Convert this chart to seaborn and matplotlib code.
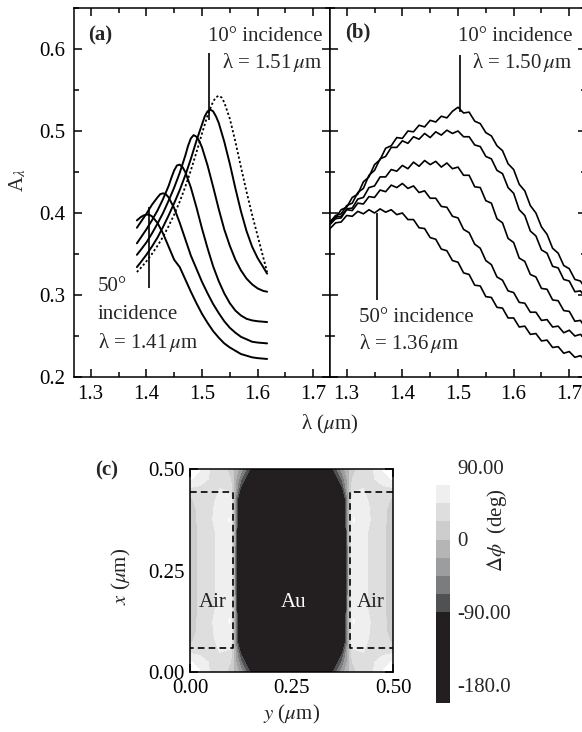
import numpy as np
import pandas as pd
import matplotlib
matplotlib.use("Agg")
import matplotlib.pyplot as plt
import seaborn as sns
from matplotlib.ticker import MultipleLocator, FormatStrFormatter

# ---------------- data: panel (a) simulated absorptance ----------------
xa_10 = [1.383, 1.39, 1.40, 1.41, 1.42, 1.43, 1.44, 1.45, 1.46, 1.47, 1.48, 1.49, 1.50, 1.505, 1.51,
         1.515, 1.52, 1.525, 1.53, 1.54, 1.55, 1.56, 1.57, 1.58, 1.59, 1.60, 1.61, 1.617]
ya_10 = [0.334, 0.340, 0.349, 0.359, 0.370, 0.383, 0.397, 0.412, 0.428, 0.446, 0.466, 0.488, 0.508, 0.518, 0.524,
         0.526, 0.524, 0.518, 0.510, 0.487, 0.460, 0.430, 0.402, 0.378, 0.359, 0.345, 0.334, 0.326]
xa_dot = [1.383, 1.39, 1.40, 1.41, 1.42, 1.43, 1.44, 1.45, 1.46, 1.47, 1.48, 1.49, 1.50, 1.51, 1.52,
          1.525, 1.53, 1.535, 1.54, 1.55, 1.56, 1.57, 1.58, 1.59, 1.60, 1.61, 1.617]
ya_dot = [0.328, 0.333, 0.341, 0.350, 0.360, 0.371, 0.384, 0.398, 0.414, 0.432, 0.452, 0.474, 0.497, 0.519, 0.536,
          0.541, 0.543, 0.541, 0.535, 0.515, 0.487, 0.456, 0.426, 0.398, 0.372, 0.346, 0.328]
xa_20 = [1.383, 1.39, 1.40, 1.41, 1.42, 1.43, 1.44, 1.45, 1.46, 1.47, 1.475, 1.48, 1.485, 1.49, 1.495,
         1.50, 1.51, 1.52, 1.53, 1.54, 1.55, 1.56, 1.57, 1.58, 1.59, 1.60, 1.61, 1.617]
ya_20 = [0.349, 0.355, 0.364, 0.375, 0.387, 0.400, 0.415, 0.431, 0.449, 0.470, 0.482, 0.491, 0.495, 0.493, 0.488,
         0.480, 0.458, 0.432, 0.405, 0.380, 0.360, 0.343, 0.330, 0.320, 0.313, 0.308, 0.305, 0.304]
xa_30 = [1.383, 1.39, 1.40, 1.41, 1.42, 1.43, 1.44, 1.445, 1.45, 1.455, 1.46, 1.465, 1.47, 1.48, 1.49,
         1.50, 1.51, 1.52, 1.53, 1.54, 1.55, 1.56, 1.57, 1.58, 1.59, 1.60, 1.617]
ya_30 = [0.363, 0.370, 0.380, 0.391, 0.403, 0.417, 0.433, 0.443, 0.452, 0.458, 0.459, 0.456, 0.450, 0.431, 0.407,
         0.381, 0.357, 0.335, 0.317, 0.302, 0.290, 0.281, 0.275, 0.271, 0.269, 0.268, 0.267]
xa_40 = [1.383, 1.39, 1.40, 1.41, 1.42, 1.425, 1.43, 1.435, 1.44, 1.45, 1.46, 1.47, 1.48, 1.49, 1.50,
         1.51, 1.52, 1.53, 1.54, 1.55, 1.56, 1.57, 1.58, 1.59, 1.60, 1.617]
ya_40 = [0.382, 0.389, 0.399, 0.410, 0.419, 0.423, 0.424, 0.423, 0.419, 0.406, 0.388, 0.368, 0.348, 0.332, 0.316,
         0.302, 0.289, 0.278, 0.268, 0.260, 0.254, 0.249, 0.246, 0.243, 0.242, 0.241]
xa_50 = [1.383, 1.39, 1.395, 1.40, 1.405, 1.41, 1.42, 1.43, 1.44, 1.45, 1.46, 1.47, 1.48, 1.49, 1.50,
         1.51, 1.52, 1.53, 1.54, 1.55, 1.56, 1.57, 1.58, 1.59, 1.60, 1.617]
ya_50 = [0.391, 0.395, 0.397, 0.398, 0.398, 0.396, 0.388, 0.375, 0.359, 0.343, 0.334, 0.319, 0.304, 0.290, 0.277,
         0.266, 0.256, 0.248, 0.241, 0.236, 0.232, 0.228, 0.226, 0.224, 0.223, 0.222]

# ---------------- data: panel (b) measured absorptance ----------------
xb = [1.27, 1.28, 1.29, 1.30, 1.31, 1.32, 1.33, 1.34, 1.35, 1.36, 1.37, 1.38, 1.39, 1.40, 1.41, 1.42,
      1.43, 1.44, 1.45, 1.46, 1.47, 1.48, 1.49, 1.50, 1.51, 1.52, 1.53, 1.54, 1.55, 1.56, 1.57, 1.58,
      1.59, 1.60, 1.61, 1.62, 1.63, 1.64, 1.65, 1.66, 1.67, 1.68, 1.69, 1.70, 1.71, 1.72, 1.73]
yb_10 = [0.390, 0.394, 0.404, 0.407, 0.419, 0.423, 0.438, 0.444, 0.459, 0.465, 0.479, 0.482, 0.492, 0.491, 0.500, 0.499,
         0.507, 0.505, 0.513, 0.511, 0.518, 0.516, 0.524, 0.529, 0.522, 0.523, 0.512, 0.509, 0.498, 0.494, 0.482, 0.476,
         0.460, 0.453, 0.435, 0.427, 0.409, 0.400, 0.383, 0.374, 0.357, 0.351, 0.336, 0.332, 0.319, 0.317, 0.307]
yb_20 = [0.389, 0.397, 0.399, 0.409, 0.412, 0.425, 0.430, 0.446, 0.452, 0.466, 0.469, 0.480, 0.480, 0.488, 0.485, 0.493,
         0.490, 0.497, 0.492, 0.499, 0.495, 0.501, 0.497, 0.500, 0.493, 0.493, 0.483, 0.481, 0.469, 0.466, 0.452, 0.448,
         0.431, 0.424, 0.404, 0.397, 0.378, 0.372, 0.355, 0.351, 0.335, 0.333, 0.319, 0.317, 0.304, 0.305, 0.296]
yb_30 = [0.388, 0.395, 0.396, 0.405, 0.406, 0.417, 0.419, 0.431, 0.433, 0.444, 0.444, 0.453, 0.451, 0.458, 0.454, 0.462,
         0.457, 0.464, 0.459, 0.463, 0.456, 0.461, 0.454, 0.456, 0.446, 0.446, 0.432, 0.431, 0.415, 0.412, 0.393, 0.388,
         0.369, 0.364, 0.345, 0.341, 0.325, 0.322, 0.308, 0.307, 0.294, 0.293, 0.281, 0.280, 0.268, 0.269, 0.259]
yb_40 = [0.386, 0.393, 0.394, 0.404, 0.403, 0.412, 0.411, 0.420, 0.419, 0.428, 0.426, 0.434, 0.431, 0.436, 0.430, 0.433,
         0.425, 0.427, 0.418, 0.418, 0.408, 0.407, 0.396, 0.394, 0.380, 0.376, 0.362, 0.357, 0.342, 0.337, 0.322, 0.318,
         0.305, 0.303, 0.291, 0.290, 0.279, 0.279, 0.269, 0.270, 0.261, 0.262, 0.254, 0.257, 0.250, 0.252, 0.246]
yb_50 = [0.381, 0.388, 0.389, 0.397, 0.396, 0.402, 0.399, 0.404, 0.400, 0.405, 0.401, 0.404, 0.398, 0.400, 0.392, 0.392,
         0.382, 0.381, 0.370, 0.368, 0.356, 0.354, 0.342, 0.340, 0.327, 0.325, 0.312, 0.311, 0.298, 0.297, 0.285, 0.284,
         0.272, 0.272, 0.261, 0.262, 0.252, 0.253, 0.244, 0.245, 0.236, 0.237, 0.229, 0.231, 0.224, 0.226, 0.220]

# peak markers: (lambda, y_low, y_high)
marks_a = [(1.513, 0.513, 0.595), (1.405, 0.309, 0.407)]
marks_b = [(1.503, 0.523, 0.593), (1.354, 0.294, 0.400)]

# ---------------- data: panel (c) phase map (deg) ----------------
yc_half = [0.0, 0.025, 0.05, 0.075, 0.1, 0.125, 0.15, 0.175, 0.2, 0.225, 0.25]
xc_rows = [0.0, 0.025, 0.05, 0.075, 0.1, 0.125, 0.15, 0.2, 0.25, 0.3, 0.35, 0.375, 0.4, 0.425, 0.45, 0.475, 0.5]
row_000 = [100, 95, 66, 60, 35, -10, -72, -150, -170, -170, -170]
row_025 = [96, 80, 64, 62, 45, -40, -115, -165, -170, -170, -170]
row_050 = [62, 60, 63, 68, 62, -75, -160, -170, -170, -170, -170]
row_075 = [40, 56, 63, 72, 80, -140, -170, -170, -170, -170, -170]
row_100 = [34, 52, 64, 76, 86, -150, -170, -170, -170, -170, -170]
row_125 = [32, 52, 64, 78, 96, -150, -170, -170, -170, -170, -170]
row_150 = [30, 50, 62, 74, 86, -160, -170, -170, -170, -170, -170]
row_200 = [28, 50, 62, 72, 82, -160, -170, -170, -170, -170, -170]
row_250 = [28, 50, 62, 72, 82, -160, -170, -170, -170, -170, -170]
phase_levels = [-180, -67.5, -45, -22.5, 0, 22.5, 45, 67.5, 90]
phase_colors = ["#231f20", "#505152", "#7b7c7d", "#9c9d9e", "#b5b5b6", "#cdcdcd", "#dedede", "#efefef"]
cbar_labels = ["90.00", "0", "-90.00", "-180.0"]

# ---------------- style ----------------
sns.set_theme(style="ticks")
plt.rcParams["font.family"] = ["Liberation Serif", "DejaVu Serif"]
plt.rcParams["mathtext.fontset"] = "stix"
plt.rcParams["axes.linewidth"] = 1.1
FS = 15

W, H = 582, 732
fig = plt.figure(figsize=(W / 100, H / 100), dpi=100)


def fr(l, t, r, b):
    return [l / W, 1 - b / H, (r - l) / W, (b - t) / H]


def style_ax(ax):
    ax.tick_params(which="both", direction="in", top=True, right=True, labelsize=FS,
                   width=1.1, colors="black")
    ax.tick_params(which="major", length=6)
    ax.tick_params(which="minor", length=3.5)
    ax.tick_params(axis="x", pad=6)
    ax.tick_params(axis="y", pad=6)
    for s in ax.spines.values():
        s.set_color("black")


axa = fig.add_axes(fr(74, 8, 330, 377))
axb = fig.add_axes(fr(330, 8, 586, 377))

lw = 1.4
for xs, ys in [(xa_10, ya_10), (xa_20, ya_20), (xa_30, ya_30), (xa_40, ya_40), (xa_50, ya_50)]:
    sns.lineplot(x=xs, y=ys, ax=axa, color="black", lw=lw, sort=False, estimator=None)
sns.lineplot(x=xa_dot, y=ya_dot, ax=axa, color="black", lw=1.3, linestyle=(0, (1.2, 1.3)),
             sort=False, estimator=None)
for xm, y0, y1 in marks_a:
    axa.vlines(xm, y0, y1, color="black", lw=1.2)

for ys in [yb_10, yb_20, yb_30, yb_40, yb_50]:
    sns.lineplot(x=xb, y=ys, ax=axb, color="black", lw=1.2, sort=False, estimator=None)
for xm, y0, y1 in marks_b:
    axb.vlines(xm, y0, y1, color="black", lw=1.2)

for ax in (axa, axb):
    ax.set_xlim(1.27, 1.73)
    ax.set_ylim(0.2, 0.65)
    ax.xaxis.set_major_locator(MultipleLocator(0.1))
    ax.xaxis.set_minor_locator(MultipleLocator(0.05))
    ax.yaxis.set_major_locator(MultipleLocator(0.1))
    ax.yaxis.set_minor_locator(MultipleLocator(0.05))
    ax.xaxis.set_major_formatter(FormatStrFormatter("%.1f"))
    ax.yaxis.set_major_formatter(FormatStrFormatter("%.1f"))
    style_ax(ax)
    ax.set_xlabel("")
    ax.set_ylabel("")
axb.tick_params(labelleft=False)

axa.text(1.295, 0.617, "(a)", fontsize=FS, fontweight="bold", ha="left", va="center")
axa.text(1.716, 0.615, "10° incidence", fontsize=FS, ha="right", va="center")
axa.text(1.716, 0.583, r"λ = 1.51$\,\mu$m", fontsize=FS, ha="right", va="center")
axa.text(1.313, 0.310, "50°", fontsize=FS, ha="left", va="center")
axa.text(1.313, 0.276, "incidence", fontsize=FS, ha="left", va="center")
axa.text(1.313, 0.242, r"λ = 1.41$\,\mu$m", fontsize=FS, ha="left", va="center")

axb.text(1.297, 0.620, "(b)", fontsize=FS, fontweight="bold", ha="left", va="center")
axb.text(1.705, 0.615, "10° incidence", fontsize=FS, ha="right", va="center")
axb.text(1.705, 0.584, r"λ = 1.50$\,\mu$m", fontsize=FS, ha="right", va="center")
axb.text(1.322, 0.272, "50° incidence", fontsize=FS, ha="left", va="center")
axb.text(1.322, 0.241, r"λ = 1.36$\,\mu$m", fontsize=FS, ha="left", va="center")

fig.text(18 / W, 1 - 180 / H, r"A$_{\lambda}$", fontsize=FS, rotation=90, ha="center", va="center")
fig.text(330 / W, 1 - 424 / H, r"λ ($\mu$m)", fontsize=FS, ha="center", va="center")

# ---------------- panel (c) ----------------
axc = fig.add_axes(fr(190, 469, 393, 672))
rows_half = {0.0: row_000, 0.025: row_025, 0.05: row_050, 0.075: row_075, 0.1: row_100,
             0.125: row_125, 0.15: row_150, 0.2: row_200, 0.25: row_250}
Z = []
for xv in xc_rows:
    key = round(xv if xv <= 0.25 else 0.5 - xv, 3)
    half = rows_half[key]
    Z.append(half + half[-2::-1])
Z = np.array(Z, dtype=float)
yc = yc_half + [round(0.5 - v, 3) for v in yc_half[-2::-1]]
cf = axc.contourf(yc, xc_rows, Z, levels=phase_levels, colors=phase_colors)

dash = dict(color="black", lw=1.2, linestyle=(0, (4, 2.5)))
axc.plot([0.0, 0.107, 0.107, 0.0], [0.443, 0.443, 0.058, 0.058], **dash)
axc.plot([0.5, 0.394, 0.394, 0.5], [0.443, 0.443, 0.058, 0.058], **dash)
axc.text(0.057, 0.172, "Air", fontsize=FS, ha="center", va="center", color="#222222")
axc.text(0.254, 0.172, "Au", fontsize=FS, ha="center", va="center", color="white")
axc.text(0.444, 0.172, "Air", fontsize=FS, ha="center", va="center", color="#222222")

axc.set_xlim(0, 0.5)
axc.set_ylim(0, 0.5)
axc.set_xticks([0, 0.25, 0.5])
axc.set_yticks([0, 0.25, 0.5])
axc.xaxis.set_minor_locator(MultipleLocator(0.125))
axc.yaxis.set_minor_locator(MultipleLocator(0.125))
axc.xaxis.set_major_formatter(FormatStrFormatter("%.2f"))
axc.yaxis.set_major_formatter(FormatStrFormatter("%.2f"))
style_ax(axc)
axc.tick_params(which="minor", length=6)
axc.tick_params(axis="x", pad=5)
axc.tick_params(axis="y", pad=4)
axc.set_xlabel(r"$y$ ($\mu$m)", fontsize=FS)
axc.xaxis.set_label_coords(0.5, -(703 - 672) / 203)
axc.set_ylabel(r"$x$ ($\mu$m)", fontsize=FS)
axc.yaxis.set_label_coords((133 - 190) / 203, 0.47)
fig.text(107 / W, 1 - 470 / H, "(c)", fontsize=FS, fontweight="bold", ha="center", va="center")

cax = fig.add_axes(fr(436, 485, 450, 703))
cb = fig.colorbar(cf, cax=cax, spacing="proportional")
cb.outline.set_visible(False)
cax.set_yticks([])
cax.tick_params(which="both", length=0)
for lab, yfrac in zip(cbar_labels, [1.069, 0.740, 0.405, 0.069]):
    cax.text(1.5, yfrac, lab, transform=cax.transAxes, fontsize=FS, ha="left", va="center",
             clip_on=False)
fig.text(497 / W, 1 - 530 / H, r"$\Delta\phi$  (deg)", fontsize=FS, rotation=90,
         ha="center", va="center")

fig.savefig("out.png", dpi=100)
